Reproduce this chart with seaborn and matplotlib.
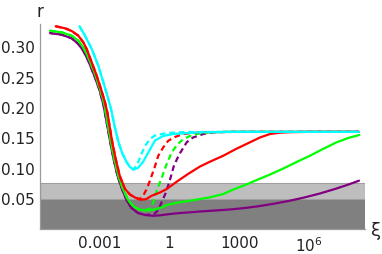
import numpy as np
import pandas as pd
import matplotlib
matplotlib.use("Agg")
import matplotlib.pyplot as plt
import seaborn as sns
from matplotlib.ticker import FixedLocator, NullFormatter, FixedFormatter

# ---- data: log10(xi) and r ----
cyan_desc_lx = [-3.863, -3.627, -3.339, -3.056, -2.841, -2.627, -2.511, -2.361, -2.189, -2.039, -1.837,
                -1.695, -1.554]
cyan_desc_r = [0.3326, 0.3171, 0.2952, 0.2678, 0.2405, 0.2130, 0.1965, 0.1691, 0.1418, 0.1250, 0.1089,
               0.1012, 0.0970]
cyan_solid_lx = [-1.352, -1.137, -0.923, -0.622, -0.279, 0.163, 1.309, 2.597, 8.13]
cyan_solid_r = [0.0995, 0.1094, 0.1242, 0.1447, 0.1521, 0.1554, 0.1582, 0.159, 0.159]
cyan_dash_lx = [-1.395, -1.223, -1.052, -0.837, -0.622, -0.120, 0.665, 8.13]
cyan_dash_r = [0.1044, 0.1209, 0.1357, 0.1472, 0.1530, 0.1571, 0.1587, 0.159]

red_desc_lx = [-4.884, -4.485, -4.197, -3.914, -3.700, -3.554, -3.339, -3.124, -2.940, -2.768, -2.652,
               -2.575, -2.455, -2.309, -2.137, -1.910, -1.695, -1.481]
red_desc_r = [0.3326, 0.3293, 0.3248, 0.3171, 0.3063, 0.2952, 0.2734, 0.2513, 0.2294, 0.2076, 0.1883,
              0.1691, 0.1418, 0.1143, 0.0868, 0.0650, 0.0559, 0.0510]
red_solid_lx = [-1.266, -1.009, -0.764, -0.408, -0.120, 0.322, 0.794, 1.309, 1.738, 2.309, 2.854, 3.455,
                3.884, 4.313, 4.740, 5.172, 6.030, 8.13]
red_solid_r = [0.0474, 0.0482, 0.0539, 0.0592, 0.0650, 0.0773, 0.0896, 0.1020, 0.1099, 0.1197, 0.1308, 0.1418,
               0.1497, 0.1554, 0.1576, 0.1584, 0.159, 0.159]
red_dash_lx = [-1.309, -1.223, -1.137, -0.966, -0.815, -0.644, -0.481, -0.266, -0.052, 0.236, 0.592, 1.309,
               2.597, 8.13]
red_dash_r = [0.0488, 0.0500, 0.0535, 0.0658, 0.0814, 0.1000, 0.1197, 0.1336, 0.1444, 0.1505, 0.1554, 0.1582,
              0.159, 0.159]

green_desc_lx = [-5.129, -4.627, -4.197, -3.914, -3.700, -3.485, -3.197, -2.983, -2.798, -2.639, -2.511,
                 -2.369, -2.197, -1.996, -1.803, -1.567, -1.309]
green_desc_r = [0.3253, 0.3227, 0.3171, 0.3089, 0.2980, 0.2816, 0.2541, 0.2294, 0.2048, 0.1691, 0.1418,
                0.1143, 0.0868, 0.0650, 0.0485, 0.0370, 0.0313]
green_solid_lx = [-1.052, -0.751, -0.408, -0.107, 0.365, 0.880, 1.309, 1.738, 2.309, 2.738, 3.240, 3.798,
                  4.313, 4.884, 5.429, 6.030, 6.588, 7.176, 7.661, 8.146]
green_solid_r = [0.0296, 0.0304, 0.0337, 0.0387, 0.0428, 0.0457, 0.0485, 0.0513, 0.0567, 0.0641, 0.0715, 0.0806,
                 0.0888, 0.0987, 0.1089, 0.1197, 0.1308, 0.1418, 0.1488, 0.1538]
green_dash_lx = [-1.009, -0.837, -0.730, -0.622, -0.472, -0.322, -0.120, 0.094, 0.322, 0.592, 0.880, 1.167,
                 1.738, 2.597, 8.13]
green_dash_r = [0.0308, 0.0329, 0.0387, 0.0535, 0.0699, 0.0847, 0.1061, 0.1253, 0.1373, 0.1472, 0.1521, 0.1554,
                0.1582, 0.159, 0.159]

purple_desc_lx = [-5.129, -4.627, -4.197, -3.914, -3.700, -3.485, -3.219, -3.004, -2.833, -2.670, -2.541,
                  -2.399, -2.232, -2.039, -1.845, -1.631, -1.352, -1.052]
purple_desc_r = [0.3215, 0.3188, 0.3128, 0.3035, 0.2924, 0.2760, 0.2508, 0.2278, 0.2031, 0.1691, 0.1418,
                 0.1143, 0.0868, 0.0650, 0.0469, 0.0337, 0.0255, 0.0222]
purple_solid_lx = [-0.708, -0.408, 0.021, 0.451, 0.880, 1.309, 1.953, 2.597, 3.240, 3.884, 4.528, 5.172,
                   5.815, 6.459, 7.103, 7.618, 8.133]
purple_solid_r = [0.0209, 0.0217, 0.0238, 0.0255, 0.0266, 0.0280, 0.0296, 0.0313, 0.0337, 0.0370, 0.0411, 0.0457,
                  0.0513, 0.0576, 0.0650, 0.0715, 0.0786]
purple_dash_lx = [-0.837, -0.665, -0.515, -0.386, -0.279, -0.172, -0.064, 0.043, 0.172, 0.322, 0.472, 0.738,
                  1.009, 1.451, 1.867, 2.811, 8.13]
purple_dash_r = [0.0230, 0.0238, 0.0288, 0.0387, 0.0485, 0.0576, 0.0699, 0.0831, 0.1012, 0.1143, 0.1253, 0.1418,
                 0.1497, 0.1554, 0.1582, 0.159, 0.159]

band_dark_top = 0.0485
band_light_top = 0.0745

x_major = [1e-3, 1.0, 1e3, 1e6]
x_major_labels = ["0.001", "1", "1000", r"$10^{6}$"]
y_major = [0.05, 0.10, 0.15, 0.20, 0.25, 0.30]
y_major_labels = ["0.05", "0.10", "0.15", "0.20", "0.25", "0.30"]

# ---- styling ----
sns.set_style("white")
plt.rcParams["font.family"] = ["DejaVu Sans"]

W, H = 382, 255
fig = plt.figure(figsize=(W / 100, H / 100), dpi=100)
x0, x1, ybot, ytop = 40, 365, 229.5, 25
ax = fig.add_axes([x0 / W, 1 - ybot / H, (x1 - x0) / W, (ybot - ytop) / H])

ax.set_xscale("log")

ax.axhspan(0, band_dark_top, facecolor="#808080", edgecolor="#6e6e6e", lw=0.8, zorder=0)
ax.axhspan(band_dark_top, band_light_top, facecolor="#bebebe", edgecolor="#a0a0a0", lw=0.8, zorder=0)

dash = (0, (2.6, 1.7))
lw = 1.6
curves = [
    ("#800080", purple_desc_lx, purple_desc_r, purple_solid_lx, purple_solid_r, purple_dash_lx, purple_dash_r),
    ("#00FF00", green_desc_lx, green_desc_r, green_solid_lx, green_solid_r, green_dash_lx, green_dash_r),
    ("#FF0000", red_desc_lx, red_desc_r, red_solid_lx, red_solid_r, red_dash_lx, red_dash_r),
    ("#00FFFF", cyan_desc_lx, cyan_desc_r, cyan_solid_lx, cyan_solid_r, cyan_dash_lx, cyan_dash_r),
]
for col, dlx, dr, slx, sr, qlx, qr in curves:
    solid = pd.DataFrame({"xi": 10.0 ** np.array(dlx + slx), "r": dr + sr})
    dashed = pd.DataFrame({"xi": 10.0 ** np.array(dlx + qlx), "r": dr + qr})
    sns.lineplot(data=solid, x="xi", y="r", ax=ax, color=col, lw=lw, sort=False,
                 estimator=None, zorder=3)
    sns.lineplot(data=dashed, x="xi", y="r", ax=ax, color=col, lw=lw, sort=False,
                 estimator=None, linestyle=dash, zorder=3)

ax.set_xlim(10 ** ((x0 - 169.5) / 23.3), 10 ** ((x1 - 169.5) / 23.3))
ax.set_ylim(0, (ybot - ytop) / 608)
ax.set_xlabel("")
ax.set_ylabel("")

ax.xaxis.set_major_locator(FixedLocator(x_major))
ax.xaxis.set_major_formatter(FixedFormatter(x_major_labels))
ax.xaxis.set_minor_locator(FixedLocator([10.0 ** k for k in range(-5, 9)]))
ax.xaxis.set_minor_formatter(NullFormatter())
ax.yaxis.set_major_locator(FixedLocator(y_major))
ax.yaxis.set_major_formatter(FixedFormatter(y_major_labels))
ax.yaxis.set_minor_locator(FixedLocator([k / 100 for k in range(1, 34)]))

for s in ["top", "right"]:
    ax.spines[s].set_visible(False)
for s in ["left", "bottom"]:
    ax.spines[s].set_color("#9a9a9a")
    ax.spines[s].set_linewidth(0.9)

ax.tick_params(which="both", direction="in", color="#9a9a9a", width=0.8, labelcolor="#222222",
               labelsize=11)
ax.tick_params(which="major", length=4.5)
ax.tick_params(which="minor", length=2.5)
ax.tick_params(axis="x", pad=5)
ax.tick_params(axis="y", pad=4)

fig.text(40 / W, 1 - 12 / H, "r", ha="center", va="center", fontsize=12, color="#222222")
fig.text(375.5 / W, 1 - 231 / H, "ξ", ha="center", va="center", fontsize=13, color="#222222")

fig.savefig("out.png", dpi=100)
